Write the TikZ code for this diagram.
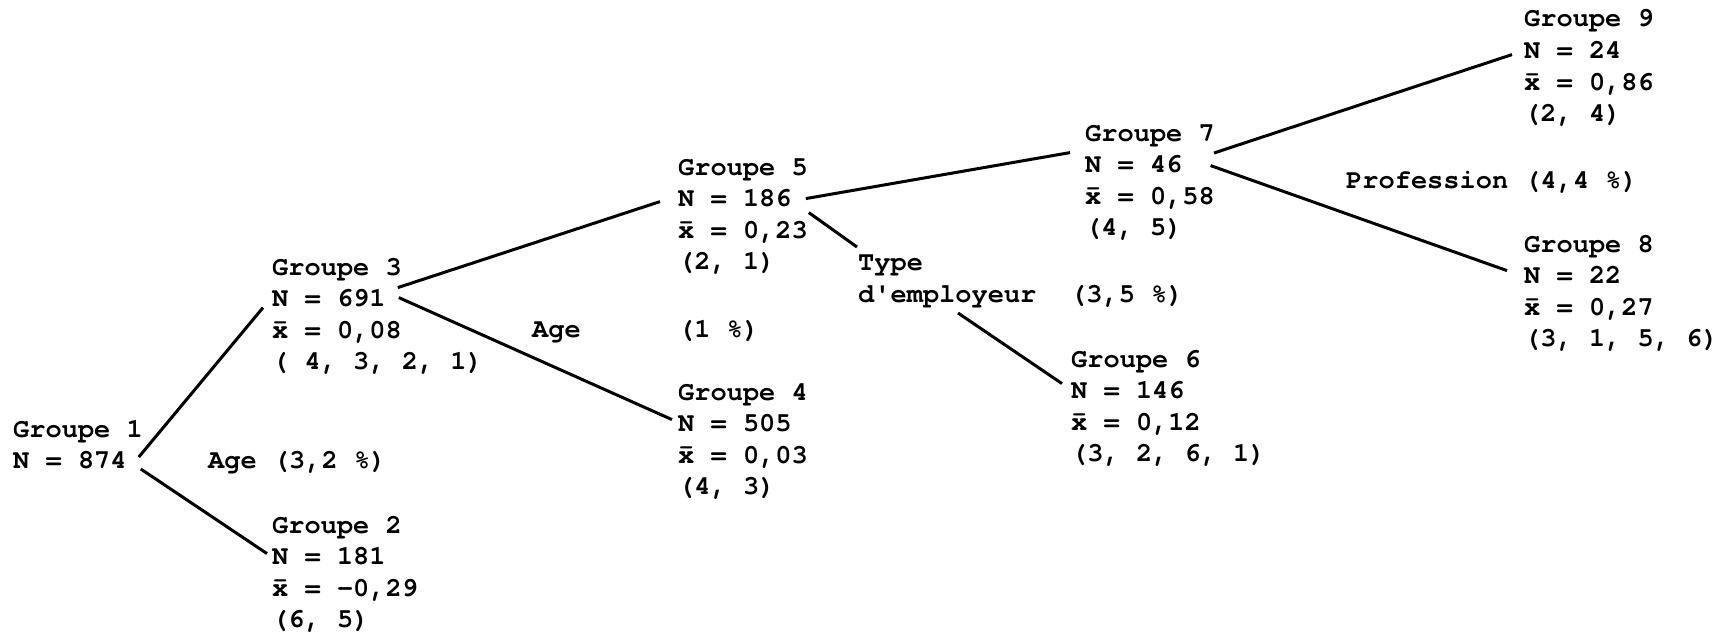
\documentclass[tikz,border=0pt]{standalone}
\usepackage{fontspec}
\newfontfamily\typewriter{TeX Gyre Cursor}
\begin{document}
\begin{tikzpicture}[x=1pt,y=-1pt,
  ln/.style={anchor=base west, inner sep=0pt, font=\typewriter\bfseries\fontsize{27}{31.6}\selectfont},
  edge/.style={draw=black, line width=3pt}]
\useasboundingbox (0,0) rectangle (1727,637);

% one group: name, x, baseline of title, title, N line, mean line, ordering
\newcommand\groupe[7]{%
  \node[ln] (#1-t) at (#2,#3) {#4};
  \node[ln] (#1-n) at (#2,#3+31.6) {#5};
  \node[ln] (#1-x) at (#2,#3+63.2) {#6};
  \node[ln] (#1-c) at (#2,#3+94.8) {#7};
}

% root
\node[ln] (g1-t) at (13,437) {Groupe 1};
\node[ln] (g1-n) at (13,468) {N = 874};

\groupe{g3}{272}{275}{Groupe 3}{N = 691}{\=x = 0,08}{( 4, 3, 2, 1)}
\groupe{g2}{272}{533}{Groupe 2}{N = 181}{\=x = -0,29}{(6, 5)}
\groupe{g5}{678}{175}{Groupe 5}{N = 186}{\=x = 0,23}{(2, 1)}
\groupe{g4}{678}{400}{Groupe 4}{N = 505}{\=x = 0,03}{(4, 3)}
\groupe{g7}{1085}{141}{Groupe 7}{N = 46}{\=x = 0,58}{(4, 5)}
\groupe{g6}{1071}{367}{Groupe 6}{N = 146}{\=x = 0,12}{(3, 2, 6, 1)}
\groupe{g9}{1524}{27}{Groupe 9}{N = 24}{\=x = 0,86}{(2, 4)}
\groupe{g8}{1524}{252}{Groupe 8}{N = 22}{\=x = 0,27}{(3, 1, 5, 6)}

% split variables
\node[ln] (s1) at (208,468) {Age (3,2 \%)};
\node[ln] (s2a) at (532,337) {Age};
\node[ln] (s2b) at (678,337) {(1 \%)};
\node[ln] (s3a) at (858,270) {Type};
\node[ln] (s3b) at (858,302) {d'employeur};
\node[ln] (s3c) at (1070,302) {(3,5 \%)};
\node[ln] (s4) at (1346,188) {Profession (4,4 \%)};

% branches
\draw[edge] ([shift={(12,-11)}]g1-n.base east) -- ([shift={(-9,1)}]g3-n.base west);
\draw[edge] ([shift={(14,1)}]g1-n.base east) -- ([shift={(-5,-11)}]g2-n.base west);
\draw[edge] ([shift={(12,-19)}]g3-n.base east) -- ([shift={(-18,-5)}]g5-n.base west);
\draw[edge] ([shift={(13,-9)}]g3-n.base east) -- ([shift={(-6,-12)}]g4-n.base west);
\draw[edge] ([shift={(14,-8)}]g5-n.base east) -- ([shift={(-15,-20)}]g7-n.base west);
\draw[edge] ([shift={(17,6)}]g5-n.base east) -- ([shift={(-1,-23)}]s3a.base west);
\draw[edge] ([shift={(100,11)}]s3b.base west) -- ([shift={(-9,-15)}]g6-n.base west);
\draw[edge] ([shift={(-1,12)}]g7-t.base east) -- ([shift={(-12,-4)}]g9-n.base west);
\draw[edge] ([shift={(28,-7)}]g7-n.base east) -- ([shift={(-17,-13)}]g8-n.base west);
\end{tikzpicture}
\end{document}
